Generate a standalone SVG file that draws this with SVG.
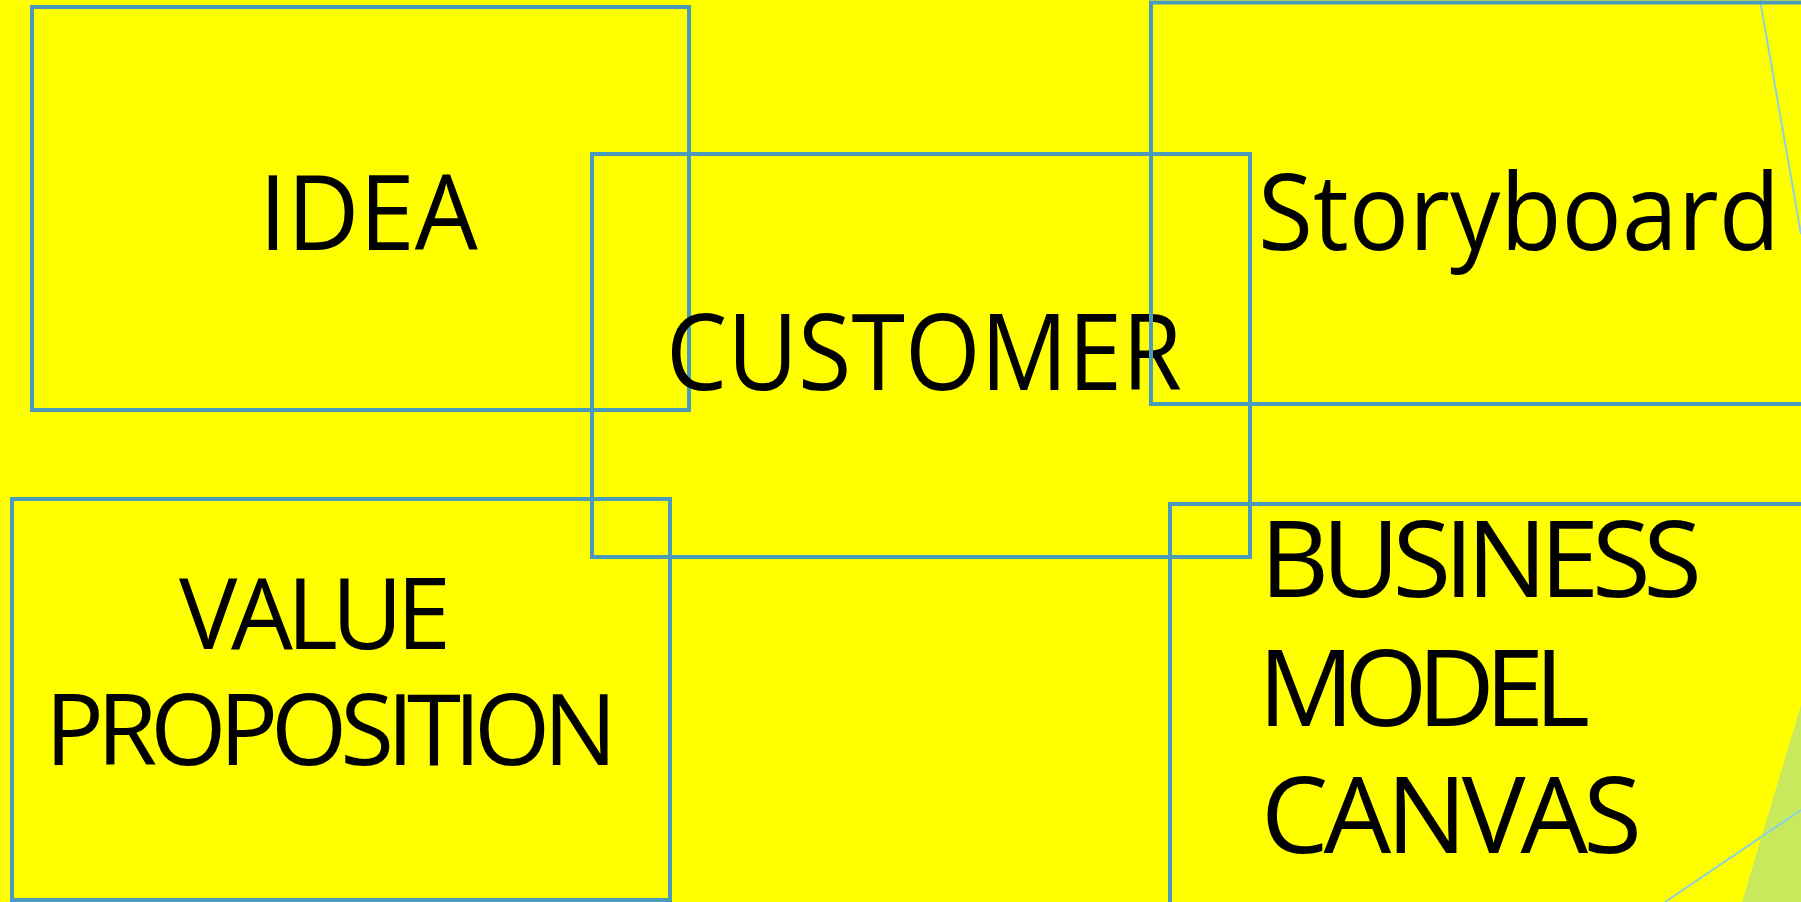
<svg xmlns="http://www.w3.org/2000/svg" width="1801" height="902" viewBox="0 0 1801 902">
  <style>
    .frame { fill: none; stroke: #4a9bbb; stroke-width: 4; }
    .accent { fill: none; stroke: #8ad2dc; stroke-width: 2; }
    .label { font-family: "Open Sans", "Noto Sans", "DejaVu Sans", sans-serif; fill: #000000; }
  </style>
  <!-- page background -->
  <rect x="0" y="0" width="1801" height="902" fill="#ffff00"/>
  <!-- decorative corner shapes -->
  <g id="decor">
    <polygon points="1801,705 1742,902 1801,902" fill="#c9e95d"/>
    <line class="accent" x1="1760" y1="0" x2="1801" y2="234"/>
    <line class="accent" x1="1665" y1="902" x2="1801" y2="810"/>
  </g>
  <g id="connectors"></g>
  <g id="idea">
    <rect class="frame" x="32" y="7" width="657" height="403"/>
    <text class="label" x="259" y="250" font-size="104" textLength="219" lengthAdjust="spacingAndGlyphs">IDEA</text>
  </g>
  <g id="customer">
    <rect class="frame" x="592" y="154" width="658" height="403"/>
    <text class="label" x="666" y="390" font-size="107" textLength="516" lengthAdjust="spacingAndGlyphs">CUSTOMER</text>
  </g>
  <g id="storyboard">
    <rect class="frame" x="1151" y="2.5" width="660" height="401.5"/>
    <text class="label" x="1258" y="250" font-size="107" textLength="522" lengthAdjust="spacingAndGlyphs">Storyboard</text>
  </g>
  <g id="value-proposition">
    <rect class="frame" x="12" y="499" width="658" height="401"/>
    <text class="label" font-size="98" lengthAdjust="spacingAndGlyphs">
      <tspan x="179" y="649" textLength="272">VALUE</tspan>
      <tspan x="45" y="765" textLength="572">PROPOSITION</tspan>
    </text>
  </g>
  <g id="business-model-canvas">
    <rect class="frame" x="1170" y="504" width="660" height="420"/>
    <text class="label" font-size="107" lengthAdjust="spacingAndGlyphs">
      <tspan x="1260" y="597" textLength="442">BUSINESS</tspan>
      <tspan x="1258" y="726" textLength="332">MODEL</tspan>
      <tspan x="1261" y="853" textLength="381">CANVAS</tspan>
    </text>
  </g>
</svg>
